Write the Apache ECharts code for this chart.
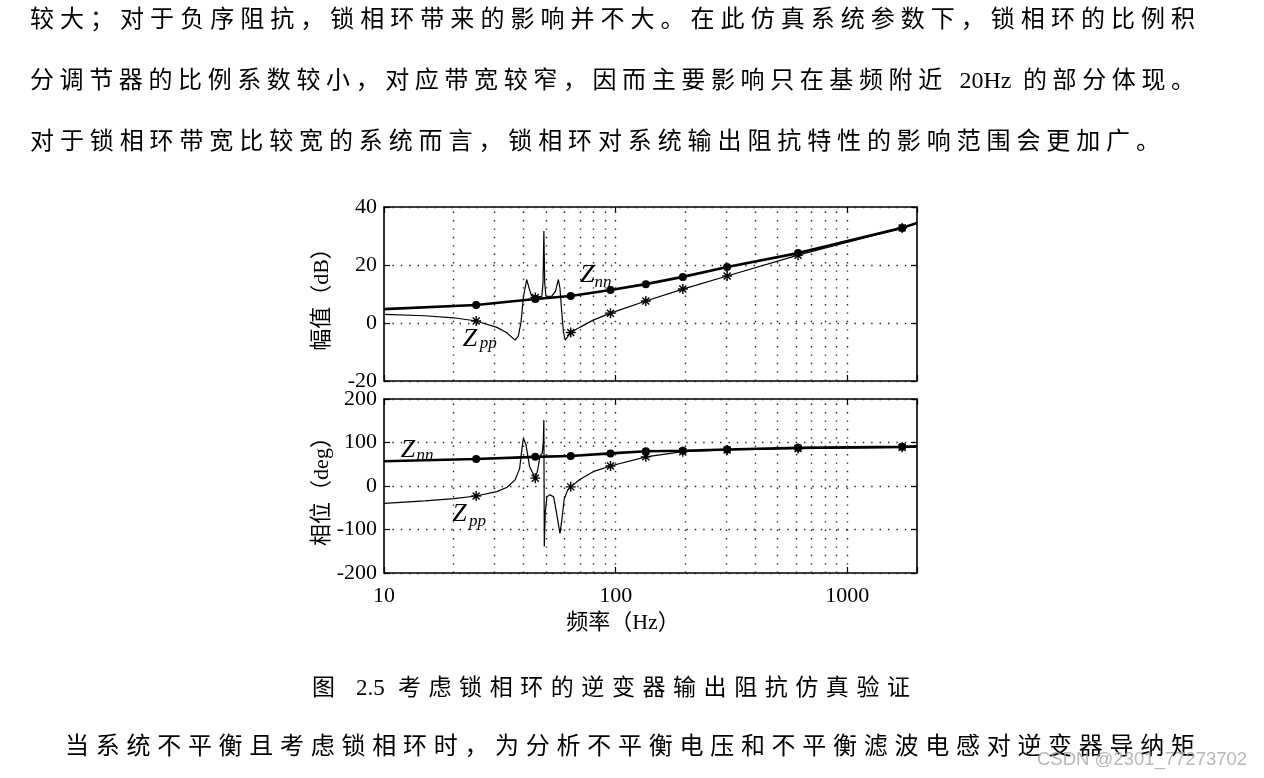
<!DOCTYPE html>
<html>
<head>
<meta charset="utf-8">
<script src="https://cdn.jsdelivr.net/npm/echarts@6/dist/echarts.min.js"></script>
<style>
html,body{margin:0;padding:0;background:#fff;}
#wrap{position:relative;width:1264px;height:778px;overflow:hidden;background:#fff;}
#chart{position:absolute;left:0;top:0;width:1264px;height:778px;}
.p{position:absolute;font-family:"Liberation Serif","Noto Sans CJK SC",serif;font-size:24px;line-height:30px;color:#000;text-align:justify;text-align-last:justify;}
.wm{position:absolute;left:1037px;top:748px;font-family:"Liberation Sans",Arial,sans-serif;font-size:18.5px;color:rgba(165,165,165,0.8);white-space:nowrap;}
</style>
</head>
<body>
<div id="wrap">
  <div id="chart"></div>
  <div class="p" style="left:30px;top:4px;width:1165px;">较大；对于负序阻抗，锁相环带来的影响并不大。在此仿真系统参数下，锁相环的比例积</div>
  <div class="p" style="left:30px;top:65px;width:1165px;">分调节器的比例系数较小，对应带宽较窄，因而主要影响只在基频附近 20Hz 的部分体现。</div>
  <div class="p" style="left:30px;top:126px;width:1130px;">对于锁相环带宽比较宽的系统而言，锁相环对系统输出阻抗特性的影响范围会更加广。</div>
  <div class="p" style="left:312px;top:673px;width:598px;font-size:23px;">图 2.5 考虑锁相环的逆变器输出阻抗仿真验证</div>
  <div class="p" style="left:65px;top:731px;width:1130px;">当系统不平衡且考虑锁相环时，为分析不平衡电压和不平衡滤波电感对逆变器导纳矩</div>
  <div class="wm">CSDN @2301_77273702</div>
</div>
<script>
// ---------------- data ----------------
const xTickLabels = ['10', '100', '1000'];
const magTicks = [-20, 0, 20, 40];
const phaseTicks = [-200, -100, 0, 100, 200];
const gridFreqs = [20, 30, 40, 50, 60, 70, 80, 90, 100, 200, 300, 400, 500, 600, 700, 800, 900, 1000];
const markerFreqs = [25, 45, 64, 95, 135, 195, 303, 613, 1726];

// Z_nn (thick line, dot markers)
const freqZnn = [10, 25, 45, 64, 95, 135, 195, 303, 613, 1726, 2000];
const magZnn = [4.8, 6.2, 8.3, 9.3, 11.4, 13.4, 15.9, 19.3, 24.1, 32.8, 34.5];
const phaseZnn = [57, 62, 67, 69, 75, 80, 81, 84, 88, 90, 91];

// Z_pp magnitude (thin line, asterisk markers)
const freqZppMag = [10, 15, 20, 25, 30.7, 33.8, 36.8, 38, 39, 40, 41.3, 42.3, 43.3, 45, 46.5, 48, 48.6, 49, 49.4, 50, 53, 55, 56.6, 57.5, 58.5, 59.5, 60.5, 62, 64, 70, 80, 95, 135, 195, 303, 613, 1726, 2000];
const magZpp = [3.0, 2.5, 1.8, 0.7, -1.5, -3.3, -5.9, -4.5, 0, 9, 15, 12, 9.5, 8.8, 9, 9.2, 14, 31.7, 14, 9.2, 9.3, 11, 15, 12, 4, -3, -5.9, -4.8, -3.3, -1.5, 1.0, 3.4, 7.6, 11.7, 16.2, 23.4, 32.8, 34.4];

// Z_pp phase
const freqZppPh = [10, 15, 20, 25, 30.7, 34, 36.8, 38.5, 39.5, 40, 41, 42.5, 45, 46, 47.2, 48.2, 48.7, 49, 49.2, 49.7, 50.5, 52, 54, 55.5, 57.5, 58.5, 60, 62, 64, 70, 80, 95, 135, 195, 303, 613, 1726, 2000];
const phaseZpp = [-40, -34, -29, -23, -13, -3, 14, 40, 90, 110, 95, 45, 18, 35, 70, 75, 100, 152, -139, -60, -25, -20, -25, -60, -109, -80, -30, -10, -2, 15, 33, 46, 67, 79, 83, 86, 89, 90];

// curve labels: [gridIndex, freq, value, text, isSub]
const curveLabels = [
  [0, 70.2, 16.6, 'Z', false], [0, 81.0, 14.1, 'nn', true],
  [0, 21.9, -5.5, 'Z', false], [0, 25.9, -7.2, 'pp', true],
  [1, 11.8, 82.8, 'Z', false], [1, 13.8, 69, 'nn', true],
  [1, 19.7, -64.4, 'Z', false], [1, 23.3, -82.8, 'pp', true]
];

// ---------------- chart ----------------
const ink = '#000';
const serif = '"Liberation Serif","Times New Roman",serif';
const mixed = '"Liberation Serif","Noto Sans CJK SC",serif';
const dotted = {color: '#222', width: 1.4, type: [1.4, 7]};
const asterisk = 'path://M5,0L5,10M0,5L10,5M1.5,1.5L8.5,8.5M1.5,8.5L8.5,1.5';

function mkData(freqs, vals, sym, size) {
  return freqs.map((f, i) => ({
    value: [f, vals[i]],
    symbol: markerFreqs.includes(f) ? sym : 'none',
    symbolSize: size
  }));
}

function xAxis(gi, showLabel, pos) {
  return {
    type: 'log', logBase: 10, gridIndex: gi, min: 10, max: 2000, position: pos,
    axisLine: {show: false, onZero: false},
    splitLine: {show: false},
    axisTick: {show: true, inside: true, length: 6, lineStyle: {color: ink, width: 1.2}},
    axisLabel: {
      show: showLabel, margin: 12, color: '#000', fontFamily: serif, fontSize: 22,
      formatter: v => { const s = String(Math.round(v)); return xTickLabels.includes(s) ? s : ''; }
    }
  };
}

function yAxis(gi, ticks, name, left) {
  const o = {
    type: 'value', gridIndex: gi, position: left ? 'left' : 'right',
    min: ticks[0], max: ticks[ticks.length - 1], interval: ticks[1] - ticks[0],
    axisLine: {show: false, onZero: false},
    axisTick: {show: true, inside: true, length: 6, lineStyle: {color: ink, width: 1.2}},
    splitLine: {show: left, lineStyle: dotted},
    axisLabel: {show: left, margin: 7, color: '#000', fontFamily: serif, fontSize: 22}
  };
  if (left) {
    o.name = name; o.nameLocation = 'middle'; o.nameGap = 51; o.nameRotate = 90;
    o.nameTextStyle = {fontFamily: mixed, fontSize: 22, color: '#000'};
  }
  return o;
}

const vGrid = {
  silent: true, symbol: 'none', label: {show: false}, animation: false,
  lineStyle: dotted, emphasis: {disabled: true},
  data: gridFreqs.map(f => ({xAxis: f}))
};

function lineSeries(xi, yi, freqs, vals, sym, size, width, withGrid) {
  const s = {
    type: 'line', xAxisIndex: xi, yAxisIndex: yi,
    data: mkData(freqs, vals, sym, size),
    symbol: 'circle', showSymbol: true, showAllSymbol: true, symbolKeepAspect: true,
    lineStyle: {color: ink, width: width},
    itemStyle: {color: ink, borderColor: ink, borderWidth: sym === 'circle' ? 0 : 1.4},
    emphasis: {disabled: true},
    z: sym === 'circle' ? 3 : 4
  };
  if (withGrid) s.markLine = vGrid;
  return s;
}

const chart = echarts.init(document.getElementById('chart'));
chart.setOption({
  animation: false,
  backgroundColor: 'transparent',
  grid: [
    {left: 384, top: 207, width: 533, height: 174, show: true, borderColor: ink, borderWidth: 1.6, backgroundColor: 'transparent', outerBoundsMode: 'none'},
    {left: 384, top: 399, width: 533, height: 174, show: true, borderColor: ink, borderWidth: 1.6, backgroundColor: 'transparent', outerBoundsMode: 'none'}
  ],
  xAxis: [xAxis(0, false, 'bottom'), xAxis(1, true, 'bottom'), xAxis(0, false, 'top'), xAxis(1, false, 'top')],
  yAxis: [
    yAxis(0, magTicks, '幅值（dB）', true),
    yAxis(1, phaseTicks, '相位（deg）', true),
    yAxis(0, magTicks, '', false),
    yAxis(1, phaseTicks, '', false)
  ],
  series: [
    lineSeries(0, 0, freqZnn, magZnn, 'circle', 8, 2.6, true),
    lineSeries(0, 0, freqZppMag, magZpp, asterisk, 10, 1.2, false),
    lineSeries(1, 1, freqZnn, phaseZnn, 'circle', 8, 2.6, true),
    lineSeries(1, 1, freqZppPh, phaseZpp, asterisk, 10, 1.2, false)
  ]
});

const graphics = [{
  type: 'text', x: 623, y: 623,
  style: {text: '频率（Hz）', font: '22px ' + mixed, fill: '#000', textAlign: 'center', textVerticalAlign: 'middle'}
}];
curveLabels.forEach(([gi, f, v, t, sub]) => {
  const p = chart.convertToPixel({gridIndex: gi}, [f, v]);
  graphics.push({
    type: 'text', x: p[0], y: p[1], z: 10,
    style: {
      text: t, font: 'italic ' + (sub ? 17 : 26) + 'px ' + serif, fill: '#000',
      textAlign: 'left', textVerticalAlign: 'middle'
    }
  });
});
chart.setOption({graphic: graphics});
</script>
</body>
</html>
